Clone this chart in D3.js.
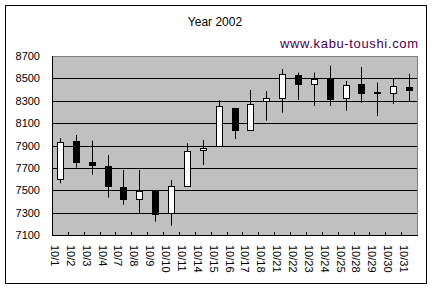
<!DOCTYPE html>
<html>
<head>
<meta charset="utf-8">
<script src="https://cdn.jsdelivr.net/npm/d3@7"></script>
<style>
  body { margin: 0; background: #fff; }
  text { font-family: "Liberation Sans", Arial, sans-serif; fill: #000; }
</style>
</head>
<body>
<div id="chart"></div>
<script>
var width = 432;
var height = 289;

// daily prices, Oct 2002
var dates = ["10/1","10/2","10/3","10/4","10/7","10/8","10/9","10/10","10/11","10/14","10/15",
             "10/16","10/17","10/18","10/21","10/22","10/23","10/24","10/25","10/28","10/29","10/30","10/31"];
var open  = [7601,7940,7750,7717,7529,7425,7496,7294,7541,7857,7893,8235,8041,8295,8328,8533,8456,8497,8319,8452,8376,8367,8423];
var high  = [7965,7994,7943,7815,7681,7681,7500,7592,7920,7949,8304,8235,8396,8387,8584,8551,8551,8613,8477,8602,8461,8497,8542];
var low   = [7562,7702,7639,7434,7371,7294,7219,7183,7541,7726,7893,7958,8041,8122,8193,8307,8253,8253,8211,8283,8164,8271,8295];
var close = [7934,7756,7720,7536,7425,7496,7294,7538,7851,7878,8253,8041,8271,8322,8539,8452,8497,8319,8438,8376,8365,8432,8399];
var yTicks = [7100,7300,7500,7700,7900,8100,8300,8500,8700];

// plot box (note: "top" is taken by window.top, so plot* names)
var plotL = 52, plotR = 417, plotT = 56, plotB = 235;

var svg = d3.select("#chart")
  .append("svg")
  .attr("width", width)
  .attr("height", height);

// outer frame
svg.append("rect")
  .attr("x", 5.5).attr("y", 5.5)
  .attr("width", 421).attr("height", 278)
  .attr("fill", "#fff").attr("stroke", "#000");

svg.append("text")
  .attr("x", 215).attr("y", 26)
  .attr("text-anchor", "middle")
  .attr("font-size", 12)
  .text("Year 2002");

svg.append("text")
  .attr("x", 418).attr("y", 48)
  .attr("text-anchor", "end")
  .attr("font-size", 13)
  .attr("textLength", 138)
  .style("fill", "#4b0050")
  .text("www.kabu-toushi.com");

var x = d3.scaleBand().domain(dates).range([plotL, plotR]);
var y = d3.scaleLinear().domain([7100, 8700]).range([plotB, plotT]);

// plot area
svg.append("rect")
  .attr("x", plotL + 0.5).attr("y", plotT + 0.5)
  .attr("width", plotR - plotL).attr("height", plotB - plotT)
  .attr("fill", "#c0c0c0").attr("stroke", "#808080");

// gridlines
svg.append("g").selectAll("line")
  .data(yTicks.slice(1, -1))
  .enter().append("line")
  .attr("x1", plotL).attr("x2", plotR)
  .attr("y1", function(d){ return Math.round(y(d)) + 0.5; })
  .attr("y2", function(d){ return Math.round(y(d)) + 0.5; })
  .attr("stroke", "#000");

// axes lines
svg.append("line")
  .attr("x1", plotL + 0.5).attr("x2", plotL + 0.5)
  .attr("y1", plotT).attr("y2", plotB + 1)
  .attr("stroke", "#000");
svg.append("line")
  .attr("x1", plotL).attr("x2", plotR + 1)
  .attr("y1", plotB + 0.5).attr("y2", plotB + 0.5)
  .attr("stroke", "#000");

// y labels
var yAxis = svg.append("g")
  .attr("transform", "translate(" + plotL + ",0)")
  .call(d3.axisLeft(y).tickValues(yTicks).tickSize(0).tickPadding(12).tickFormat(d3.format("d")));
yAxis.select(".domain").remove();
yAxis.selectAll("text").attr("font-size", 11).style("font-family", "Liberation Sans, Arial, sans-serif");

// x ticks at band boundaries, pointing inward
svg.append("g").selectAll("line")
  .data(dates.slice(1))
  .enter().append("line")
  .attr("x1", function(d){ return Math.round(x(d)) + 0.5; })
  .attr("x2", function(d){ return Math.round(x(d)) + 0.5; })
  .attr("y1", plotB - 3).attr("y2", plotB)
  .attr("stroke", "#000");

// x labels rotated
svg.append("g").selectAll("text")
  .data(dates)
  .enter().append("text")
  .attr("font-size", 11)
  .attr("dominant-baseline", "central")
  .attr("transform", function(d){
    return "translate(" + (x(d) + x.bandwidth() / 2 - 5) + ",245) rotate(90)";
  })
  .text(function(d){ return d; });

// candles
var candles = svg.append("g").selectAll("g")
  .data(dates)
  .enter().append("g");

candles.append("line")
  .attr("x1", function(d){ return Math.round(x(d) + x.bandwidth() / 2) + 0.5; })
  .attr("x2", function(d){ return Math.round(x(d) + x.bandwidth() / 2) + 0.5; })
  .attr("y1", function(d, i){ return y(high[i]); })
  .attr("y2", function(d, i){ return y(low[i]); })
  .attr("stroke", "#000");

candles.append("rect")
  .attr("x", function(d){ return Math.round(x(d) + x.bandwidth() / 2) - 2.5; })
  .attr("width", 6)
  .attr("y", function(d, i){ return Math.round(y(Math.max(open[i], close[i]))) + 0.5; })
  .attr("height", function(d, i){ return Math.max(1, Math.round(Math.abs(y(open[i]) - y(close[i])))); })
  .attr("fill", function(d, i){ return close[i] < open[i] ? "#000" : "#fff"; })
  .attr("stroke", "#000");
</script>
</body>
</html>
